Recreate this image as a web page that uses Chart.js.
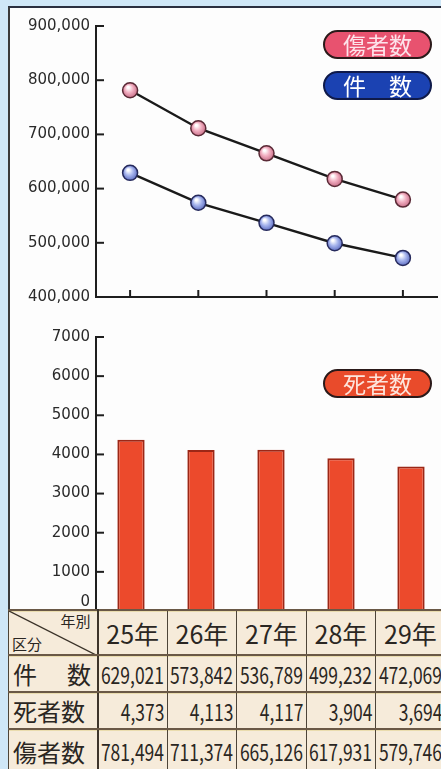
<!DOCTYPE html>
<html lang="ja">
<head>
<meta charset="utf-8">
<title>交通事故の推移</title>
<script src="https://cdn.jsdelivr.net/npm/chart.js@4.4.1/dist/chart.umd.min.js"></script>
<style>
  html, body { margin: 0; padding: 0; overflow: hidden; }
  body { width: 441px; height: 769px; background: #cfe7f7; position: relative; font-family: "Noto Sans CJK JP", sans-serif; }
  #panel { position: absolute; left: 8px; top: 6px; width: 445px; height: 780px; background: #fdfdfd;
           border-top: 2px solid #2a2f3f; border-left: 2px solid #3a3a3a; box-sizing: border-box; }
  .box { position: absolute; left: 8px; width: 438px; }
  #topBox { top: 6px; height: 306px; }
  #botBox { top: 306px; height: 320px; }
  .badge { position: absolute; left: 323px; width: 109px; height: 29px; box-sizing: border-box; border-radius: 15px;
           border: 2px solid #2b1a1a; color: #fff; font-size: 23px; line-height: 24px; text-align: center;
           z-index: 3; }
  #bInjured { top: 30px; background: #e8526f; color: #fde3ea; }
  #bCases { top: 71px; background: #1b42b2; border-color: #0f1a4a; }
  #bDeaths { top: 369px; background: #e94b2b; color: #fde5dc; }
  table { position: absolute; left: 8px; top: 609px; width: 437px; border-collapse: collapse; table-layout: fixed; z-index: 2;
          background: #f6ebda; color: #2a2622; }
  td { padding: 0; border-top: 2px solid #6a5846; border-bottom: 2px solid #6a5846;
       border-left: 1px solid #4d4438; border-right: 1px solid #4d4438; box-shadow: inset 0 1px 0 #eadcae;
       font-family: "Noto Sans CJK JP", sans-serif; font-size: 23px; white-space: nowrap; overflow: hidden; }
  td.num { position: relative; }
  td .n { position: absolute; right: 3px; top: 50%; transform: translateY(-50%) scaleX(0.76); transform-origin: right center; line-height: 30px; }
  tr.head td { height: 43px; font-size: 25px; text-align: center; }
  tr.row td { height: 34px; }
  tr.row.last td { height: 42px; }
  td.lab { font-size: 24px; text-align: left; padding-left: 4px; border-right: 2px solid #3e352b; }
  td.corner { position: relative; border-right: 2px solid #3e352b; }
  td.corner svg { position: absolute; left: 0; top: 0; }
  td.corner .a { position: absolute; right: 6px; top: 1px; font-size: 15px; line-height: 18px; }
  td.corner .b { position: absolute; left: 3px; bottom: 1px; font-size: 15px; line-height: 18px; }
</style>
</head>
<body>
<div id="panel"></div>
<div class="box" id="topBox"><canvas id="lineChart"></canvas></div>
<div class="box" id="botBox"><canvas id="barChart"></canvas></div>
<div class="badge" id="bInjured">傷者数</div>
<div class="badge" id="bCases">件　数</div>
<div class="badge" id="bDeaths">死者数</div>
<table id="tbl"></table>
<script>
const years = ['25年', '26年', '27年', '28年', '29年'];
const cases = [629021, 573842, 536789, 499232, 472069];
const deaths = [4373, 4113, 4117, 3904, 3694];
const injured = [781494, 711374, 665126, 617931, 579746];
const lineRange = [400000, 900000, 100000];
const barRange = [0, 7000, 1000];

// table under the charts
const tbl = document.getElementById('tbl');
const widths = [89, 70, 69, 70, 69, 70];
let html = '<colgroup>' + widths.map(w => '<col style="width:' + w + 'px">').join('') + '</colgroup>';
html += '<tr class="head"><td class="corner"><svg width="89" height="45"><line x1="0" y1="0" x2="89" y2="45" stroke="#3a3228" stroke-width="1.3"/></svg>' +
        '<span class="a">年別</span><span class="b">区分</span></td>' +
        years.map(y => '<td>' + y + '</td>').join('') + '</tr>';
const rows = [['件<span style="padding-left:30px"></span>数', cases], ['死者数', deaths], ['傷者数', injured]];
rows.forEach((r, i) => {
  html += '<tr class="row' + (i === rows.length - 1 ? ' last' : '') + '"><td class="lab">' + r[0] + '</td>' +
          r[1].map(v => '<td class="num"><span class="n">' + v.toLocaleString('en-US') + '</span></td>').join('') + '</tr>';
});
tbl.innerHTML = html;

// short ticks drawn inward from the axis lines
const innerTicks = {
  id: 'innerTicks',
  afterDraw(chart, args, opts) {
    const c = chart.ctx, area = chart.chartArea;
    const sy = chart.scales.y, sx = chart.scales.x;
    c.save();
    c.strokeStyle = '#1e1e1e';
    c.lineWidth = 2;
    sy.ticks.forEach((t, i) => {
      const y = sy.getPixelForTick(i);
      c.beginPath(); c.moveTo(area.left, y); c.lineTo(area.left + 8, y); c.stroke();
    });
    if (opts.xTicks) {
      sx.ticks.forEach((t, i) => {
        const x = sx.getPixelForTick(i);
        c.beginPath(); c.moveTo(x, area.bottom); c.lineTo(x, area.bottom - 7); c.stroke();
      });
    }
    if (opts.zeroLabel) {
      c.fillStyle = '#2a2a2a';
      c.font = '15px "DejaVu Sans"';
      c.textAlign = 'right';
      c.textBaseline = 'middle';
      c.fillText('0', area.left - 6, sy.getPixelForValue(0) - 9);
    }
    c.restore();
  }
};

function ball(light, dark) {
  return ctx => {
    const chart = ctx.chart;
    if (ctx.type !== 'data' || !ctx.parsed || !chart.scales.y) return light;
    const x = chart.scales.x.getPixelForValue(ctx.dataIndex);
    const y = chart.scales.y.getPixelForValue(ctx.parsed.y);
    if (!isFinite(x) || !isFinite(y)) return light;
    const g = chart.ctx.createRadialGradient(x - 2, y - 3, 1, x, y, 8);
    g.addColorStop(0, '#ffffff');
    g.addColorStop(0.45, light);
    g.addColorStop(1, dark);
    return g;
  };
}

const yAxis = (range, fmt) => ({
  min: range[0], max: range[1],
  afterFit: s => { s.width = 88; },
  border: { color: '#1e1e1e', width: 2 },
  grid: { drawOnChartArea: false, drawTicks: false },
  ticks: { stepSize: range[2], padding: 6, color: '#2a2a2a', font: { family: 'DejaVu Sans', size: 15 }, callback: fmt }
});

new Chart(document.getElementById('lineChart'), {
  type: 'line',
  data: {
    labels: years,
    datasets: [
      { label: '傷者数', data: injured, borderColor: '#1a1a1a', borderWidth: 2.4,
        pointRadius: 7.5, pointBorderWidth: 1.5, pointBorderColor: '#5a2a36',
        pointBackgroundColor: ball('#f2b0c2', '#c56a84') },
      { label: '件数', data: cases, borderColor: '#1a1a1a', borderWidth: 2.4,
        pointRadius: 7.5, pointBorderWidth: 1.5, pointBorderColor: '#262a5c',
        pointBackgroundColor: ball('#a9b7ee', '#5a6ac0') }
    ]
  },
  options: {
    responsive: true, maintainAspectRatio: false, animation: false, events: [],
    layout: { padding: { top: 20, right: 0, bottom: 0, left: 0 } },
    plugins: { legend: { display: false }, tooltip: { enabled: false }, innerTicks: { xTicks: true } },
    scales: {
      x: { offset: true, afterFit: s => { s.height = 11; },
           border: { color: '#1e1e1e', width: 2 }, grid: { display: false }, ticks: { display: false } },
      y: yAxis(lineRange, v => v.toLocaleString('en-US'))
    }
  },
  plugins: [innerTicks]
});

new Chart(document.getElementById('barChart'), {
  type: 'bar',
  data: {
    labels: years,
    datasets: [{ label: '死者数', data: deaths, backgroundColor: '#ec4a2c', borderColor: '#9c2716',
                 borderWidth: 2, categoryPercentage: 1, barPercentage: 0.39 }]
  },
  options: {
    responsive: true, maintainAspectRatio: false, animation: false, events: [],
    layout: { padding: { top: 31, right: 0, bottom: 0, left: 0 } },
    plugins: { legend: { display: false }, tooltip: { enabled: false }, innerTicks: { xTicks: false, zeroLabel: true } },
    scales: {
      x: { afterFit: s => { s.height = 10; }, border: { display: false }, grid: { display: false }, ticks: { display: false } },
      y: yAxis(barRange, v => v === 0 ? '' : String(v))
    }
  },
  plugins: [innerTicks]
});
</script>
</body>
</html>
